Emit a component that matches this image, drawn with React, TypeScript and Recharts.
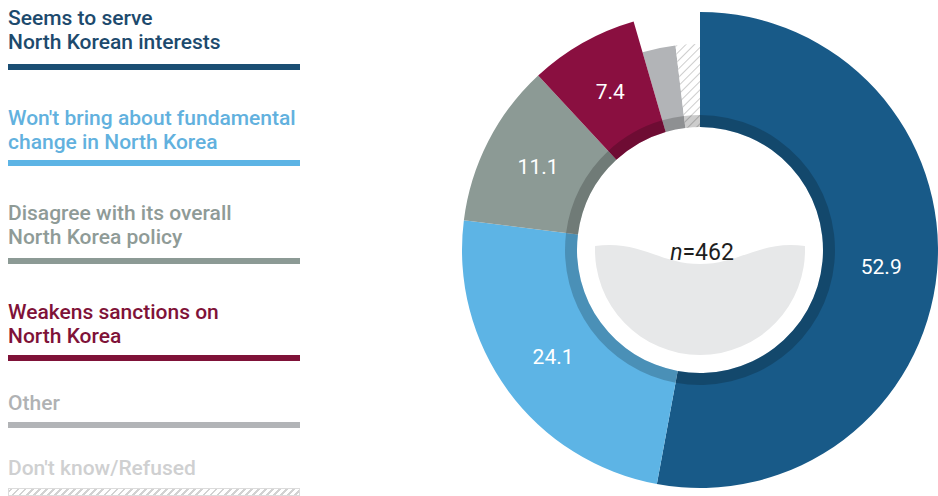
import React from 'react';
import { PieChart, Pie, Cell } from 'recharts';

// survey answers, share of respondents (%)
const categories = [
  'Seems to serve North Korean interests',
  "Won't bring about fundamental change in North Korea",
  'Disagree with its overall North Korea policy',
  'Weakens sanctions on North Korea',
  'Other',
  "Don't know/Refused",
];
const shares = [52.9, 24.1, 11.1, 7.4, 2.6, 1.9];
const shareLabels = ['52.9', '24.1', '11.1', '7.4', '', ''];
const legendLines = [
  ['Seems to serve', 'North Korean interests'],
  ["Won't bring about fundamental", 'change in North Korea'],
  ['Disagree with its overall', 'North Korea policy'],
  ['Weakens sanctions on', 'North Korea'],
  ['Other'],
  ["Don't know/Refused"],
];
const sampleSize = 462;

const sliceColors = ['#185a88', '#5db4e5', '#8c9a95', '#8a0f40', '#b2b4b7', 'url(#hatch)'];
const barColors = ['#1a4e73', '#5db4e5', '#8c9a95', '#7f1238', '#b2b4b7', ''];
const textColors = ['#1d4a6d', '#62b1de', '#8f9b97', '#7f1238', '#b0b2b4', '#cfd0d1'];
const isMajor = [true, true, true, true, false, false];

// legend layout
const legendTextTop = [6, 106, 201, 300, 391, 456];
const legendBarTop = [64, 160, 258, 355, 422, 488];

const FONT = 'Roboto, "Noto Sans", sans-serif';

const CX = 700;
const CY = 250;
const R_OUT = 238;
const R_SMALL = 206;
const R_IN = 123;
const R_BAND = 135;
const RADIAN = Math.PI / 180;

const data = categories.map((name, i) => ({ name, value: shares[i] }));

const renderLabel = (props: any) => {
  const { cx, cy, midAngle, index } = props;
  const text = shareLabels[index];
  if (!text) return null;
  const r = 182;
  const x = cx + r * Math.cos(-midAngle * RADIAN);
  const y = cy + r * Math.sin(-midAngle * RADIAN);
  return (
    <text
      x={x}
      y={y}
      fill="#ffffff"
      fontSize={21}
      fontFamily={FONT}
      textAnchor="middle"
      dominantBaseline="central"
    >
      {text}
    </text>
  );
};

const bowlPath = () => {
  const r = 105;
  const yTop = CY - 4;
  const dx = Math.sqrt(r * r - 16);
  return [
    `M ${CX - dx} ${yTop}`,
    `C ${CX - 60} ${CY - 10}, ${CX - 40} ${CY + 14}, ${CX} ${CY + 14}`,
    `C ${CX + 40} ${CY + 14}, ${CX + 60} ${CY - 10}, ${CX + dx} ${yTop}`,
    `A ${r} ${r} 0 1 1 ${CX - dx} ${yTop}`,
    'Z',
  ].join(' ');
};

export default function App() {
  return (
    <div
      style={{
        position: 'absolute',
        left: 0,
        top: 0,
        width: 938,
        height: 496,
        background: '#ffffff',
        overflow: 'hidden',
      }}
    >
      {legendLines.map((lines, i) => (
        <React.Fragment key={categories[i]}>
          <div
            style={{
              position: 'absolute',
              left: 8,
              top: legendTextTop[i],
              fontFamily: FONT,
              fontWeight: 500,
              fontSize: 21,
              lineHeight: '24px',
              color: textColors[i],
              whiteSpace: 'nowrap',
            }}
          >
            {lines.map((l) => (
              <div key={l}>{l}</div>
            ))}
          </div>
          <div
            style={{
              position: 'absolute',
              left: 8,
              top: legendBarTop[i],
              width: 292,
              height: i === 5 ? 8 : 6,
              background:
                i === 5
                  ? 'repeating-linear-gradient(-45deg, #ffffff 0 3px, #d2d2d2 3px 5px)'
                  : barColors[i],
              boxShadow: i === 5 ? 'inset 0 0 0 1px #dcdcdc' : undefined,
            }}
          />
        </React.Fragment>
      ))}

      <div style={{ position: 'absolute', left: 0, top: 0 }}>
        <PieChart width={938} height={496} margin={{ top: 0, right: 0, bottom: 0, left: 0 }}>
          <defs>
            <pattern
              id="hatch"
              width="6"
              height="6"
              patternUnits="userSpaceOnUse"
              patternTransform="rotate(45)"
            >
              <rect width="6" height="6" fill="#ffffff" />
              <line x1="0" y1="0" x2="0" y2="6" stroke="#cdcdcd" strokeWidth="2" />
            </pattern>
          </defs>
          <path d={bowlPath()} fill="#e7e8e9" />
          <text
            x={CX + 2}
            y={CY + 2}
            textAnchor="middle"
            dominantBaseline="central"
            fontSize={23}
            fontFamily={FONT}
            fill="#1e1e1e"
          >
            <tspan fontStyle="italic">n</tspan>={sampleSize}
          </text>
          <Pie
            data={data}
            dataKey="value"
            cx={CX}
            cy={CY}
            startAngle={90}
            endAngle={-270}
            innerRadius={R_IN}
            outerRadius={R_SMALL}
            stroke="none"
            isAnimationActive={false}
          >
            {data.map((d, i) => (
              <Cell key={d.name} fill={isMajor[i] ? 'none' : sliceColors[i]} />
            ))}
          </Pie>
          <Pie
            data={data}
            dataKey="value"
            cx={CX}
            cy={CY}
            startAngle={90}
            endAngle={-270}
            innerRadius={R_IN}
            outerRadius={R_OUT}
            stroke="none"
            label={renderLabel}
            labelLine={false}
            isAnimationActive={false}
          >
            {data.map((d, i) => (
              <Cell key={d.name} fill={isMajor[i] ? sliceColors[i] : 'none'} />
            ))}
          </Pie>
          <Pie
            data={data}
            dataKey="value"
            cx={CX}
            cy={CY}
            startAngle={90}
            endAngle={-270}
            innerRadius={R_IN}
            outerRadius={R_BAND}
            stroke="none"
            fill="#000000"
            fillOpacity={0.2}
            isAnimationActive={false}
          />
        </PieChart>
      </div>
    </div>
  );
}
